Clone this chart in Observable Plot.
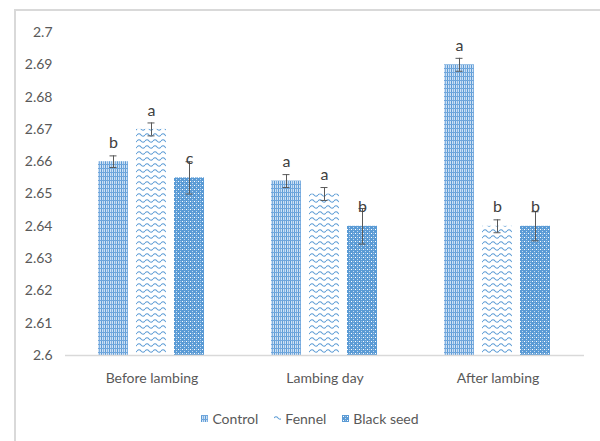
<!DOCTYPE html>
<html>
<head>
<meta charset="utf-8">
<script src="https://cdn.jsdelivr.net/npm/d3@7"></script>
<script src="https://cdn.jsdelivr.net/npm/@observablehq/plot@0.6"></script>
<style>
  html, body { margin: 0; padding: 0; background: #fff; }
  body { width: 600px; height: 441px; position: relative; overflow: hidden;
         font-family: Lato, "Open Sans", sans-serif; }
  #frame { position: absolute; left: 14px; top: 9px; width: 600px; height: 440px;
           border-top: 2px solid #d9d9d9; border-left: 2px solid #d9d9d9; box-sizing: border-box; }
  #chart { position: absolute; left: 0; top: 0; }
  #legend { position: absolute; left: 0; top: 410px; width: 600px; display: flex;
            justify-content: center; font-size: 14px; color: #595959; padding-left: 20px; box-sizing: border-box; }
  #legend .item { display: flex; align-items: center; margin: 0 8px; }
  #legend svg { margin-right: 4px; }
</style>
</head>
<body>
<div id="frame"></div>
<div id="chart"></div>
<div id="legend"></div>
<script>
// ---- data ----
const periods = ["Before lambing", "Lambing day", "After lambing"];
const series = ["Control", "Fennel", "Black seed"];
const control   = [2.660, 2.654, 2.690];
const fennel    = [2.670, 2.650, 2.640];
const blackSeed = [2.655, 2.640, 2.640];
const controlErr   = [0.0018, 0.002, 0.002];
const fennelErr    = [0.002, 0.002, 0.002];
const blackSeedErr = [0.005, 0.0055, 0.0045];
const controlLetters   = ["b", "a", "a"];
const fennelLetters    = ["a", "a", "b"];
const blackSeedLetters = ["c", "b", "b"];
const yTicks = [2.6, 2.61, 2.62, 2.63, 2.64, 2.65, 2.66, 2.67, 2.68, 2.69, 2.7];
const yTickLabels = ["2.6", "2.61", "2.62", "2.63", "2.64", "2.65", "2.66", "2.67", "2.68", "2.69", "2.7"];

const patternIds = ["pat-control", "pat-fennel", "pat-black"];

// build table
const values = [control, fennel, blackSeed];
const errs = [controlErr, fennelErr, blackSeedErr];
const letters = [controlLetters, fennelLetters, blackSeedLetters];
const rows = [];
periods.forEach((p, i) => {
  series.forEach((s, j) => {
    rows.push({period: p, series: s, value: values[j][i], err: errs[j][i], letter: letters[j][i]});
  });
});
const yMin = yTicks[0], yMax = yTicks[yTicks.length - 1];

const svg = Plot.plot({
  width: 600,
  height: 395,
  marginLeft: 64,
  marginRight: 16,
  marginTop: 32,
  marginBottom: 40,
  style: {fontFamily: 'Lato, "Open Sans", sans-serif', fontSize: "14px", color: "#595959", background: "transparent"},
  fx: {domain: periods, paddingInner: 0, paddingOuter: 0, label: null, axis: "bottom", tickSize: 0, tickPadding: 18},
  x: {domain: series, paddingInner: 0.2, paddingOuter: 0.83, axis: null},
  y: {domain: [yMin, yMax], ticks: yTicks, tickFormat: (d) => yTickLabels[yTicks.indexOf(d)], tickSize: 0, tickPadding: 13, label: null},
  color: {domain: series, range: patternIds.map(id => `url(#${id})`)},
  marks: [
    Plot.barY(rows, {fx: "period", x: "series", y1: () => yMin, y2: "value", fill: "series"}),
    Plot.ruleY([yMin], {stroke: "#d9d9d9", strokeWidth: 1.5}),
    Plot.ruleX(rows, {fx: "period", x: "series", y1: d => d.value - d.err, y2: d => d.value + d.err, stroke: "#595959", strokeWidth: 1}),
    Plot.tickY(rows, {fx: "period", x: "series", y: d => d.value + d.err, stroke: "#595959", insetLeft: 11.5, insetRight: 11.5}),
    Plot.tickY(rows, {fx: "period", x: "series", y: d => d.value - d.err, stroke: "#595959", insetLeft: 11.5, insetRight: 11.5}),
    Plot.text(rows, {fx: "period", x: "series", y: "value", text: "letter", dy: -19, fill: "#404040", fontSize: 16})
  ]
});

const defs = d3.select(svg).insert("defs", ":first-child");
// Control: fine grid
const p1 = defs.append("pattern").attr("id", "pat-control").attr("patternUnits", "userSpaceOnUse").attr("width", 4).attr("height", 4);
p1.append("rect").attr("width", 4).attr("height", 4).attr("fill", "#cfe1f4");
p1.append("rect").attr("x", 0).attr("width", 1).attr("height", 4).attr("fill", "#5b9bd5");
p1.append("rect").attr("x", 2).attr("width", 1).attr("height", 4).attr("fill", "#80b1e2");
p1.append("rect").attr("y", 0).attr("width", 4).attr("height", 1).attr("fill", "#6fa6dc");
// Fennel: waves
const p2 = defs.append("pattern").attr("id", "pat-fennel").attr("patternUnits", "userSpaceOnUse").attr("width", 8).attr("height", 6);
p2.append("rect").attr("width", 8).attr("height", 6).attr("fill", "#ffffff");
p2.append("path").attr("d", "M0 3 Q2 0.5 4 3 T8 3").attr("fill", "none").attr("stroke", "#5b9bd5").attr("stroke-width", 1.1);
// Black seed: dense plaid
const p3 = defs.append("pattern").attr("id", "pat-black").attr("patternUnits", "userSpaceOnUse").attr("width", 4).attr("height", 4);
p3.append("rect").attr("width", 4).attr("height", 4).attr("fill", "#5b9bd5");
p3.append("rect").attr("x", 1).attr("y", 1).attr("width", 1).attr("height", 1).attr("fill", "#ffffff");
p3.append("rect").attr("x", 3).attr("y", 3).attr("width", 1).attr("height", 1).attr("fill", "#c5dcf2");
p3.append("rect").attr("x", 3).attr("y", 1).attr("width", 1).attr("height", 1).attr("fill", "#9dc3e6");

document.getElementById("chart").appendChild(svg);

// legend
const legend = d3.select("#legend");
series.forEach((s, j) => {
  const item = legend.append("div").attr("class", "item");
  const sw = item.append("svg").attr("width", 7).attr("height", 7);
  sw.append("rect").attr("width", 7).attr("height", 7).attr("fill", `url(#${patternIds[j]})`);
  item.append("span").text(s);
});
</script>
</body>
</html>
